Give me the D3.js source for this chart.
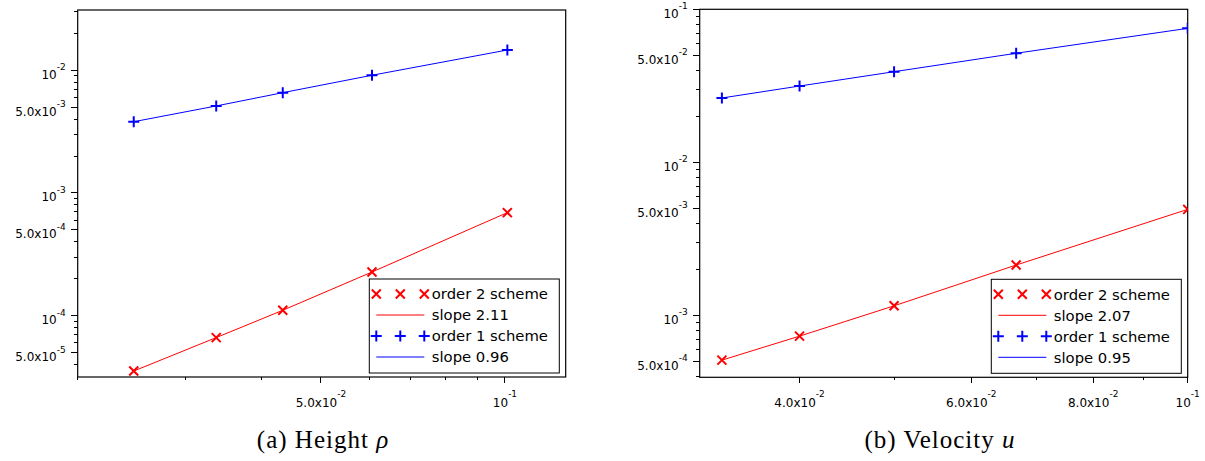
<!DOCTYPE html>
<html>
<head>
<meta charset="utf-8">
<script src="https://cdn.jsdelivr.net/npm/d3@7"></script>
<style>
  html, body { margin: 0; padding: 0; background: #fff; }
  svg { display: block; }
</style>
</head>
<body>
<script>
// ---------------- data ----------------
// (a) Height rho
const hLeft       = [0.0247, 0.0337, 0.0433, 0.0606, 0.1009];
const rhoOrder2   = [3.54e-5, 6.63e-5, 1.107e-4, 2.27e-4, 6.92e-4];
const rhoOrder1   = [3.81e-3, 5.12e-3, 6.57e-3, 9.11e-3, 1.463e-2];
const rhoSlopes   = ["slope 2.11", "slope 0.96"];
const leftXTicks  = [0.05, 0.1];
const leftXLabels = ["5.0x10^-2", "10^-1"];
const leftYTicks  = [1e-2, 5e-3, 1e-3, 5e-4, 1e-4, 5e-5];
const leftYLabels = ["10^-2", "5.0x10^-3", "10^-3", "5.0x10^-4", "10^-4", "5.0x10^-5"];

// (b) Velocity u
const hRight       = [0.0333, 0.04, 0.05, 0.0667, 0.1];
const uOrder2      = [5.10e-4, 7.32e-4, 1.155e-3, 2.133e-3, 4.93e-3];
const uOrder1      = [0.02633, 0.03153, 0.0391, 0.0516, 0.0751];
const uSlopes      = ["slope 2.07", "slope 0.95"];
const rightXTicks  = [0.04, 0.06, 0.08, 0.1];
const rightXLabels = ["4.0x10^-2", "6.0x10^-2", "8.0x10^-2", "10^-1"];
const rightYTicks  = [1e-1, 5e-2, 1e-2, 5e-3, 1e-3, 5e-4];
const rightYLabels = ["10^-1", "5.0x10^-2", "10^-2", "5.0x10^-3", "10^-3", "5.0x10^-4"];

const seriesNames = ["order 2 scheme", "order 1 scheme"];
const captions = [["(a) Height ", "ρ"], ["(b) Velocity ", "u"]];

// ---------------- drawing ----------------
const W = 1205, H = 461;
const RED = "#ff0000", BLUE = "#0000ff";
const svg = d3.select("body").append("svg").attr("width", W).attr("height", H)
  .style("font-family", "'DejaVu Sans', sans-serif");

function logMinorTicks(domain) {
  const out = [];
  const lo = Math.floor(Math.log10(domain[0])), hi = Math.ceil(Math.log10(domain[1]));
  for (let k = lo; k <= hi; k++) for (let m = 1; m <= 9; m++) {
    const v = m * Math.pow(10, k);
    if (v >= domain[0] * 0.9999 && v <= domain[1] * 1.0001) out.push(v);
  }
  return out;
}

function addLabel(g, str, x, y, anchor, supDy) {
  const parts = str.split("^");
  const t = g.append("text").attr("x", x).attr("y", y).attr("text-anchor", anchor)
    .attr("font-size", 12).attr("fill", "#000");
  t.append("tspan").text(parts[0]);
  t.append("tspan").attr("font-size", 9).attr("dy", supDy).text(parts[1]);
}

function panel(cfg, idx) {
  const b = cfg.box;
  const x = d3.scaleLog().domain(cfg.xDomain).range([b.x0, b.x1]);
  const y = d3.scaleLog().domain(cfg.yDomain).range([b.y1, b.y0]);
  const g = svg.append("g");

  const clipId = "clip" + idx;
  g.append("clipPath").attr("id", clipId).append("rect")
    .attr("x", b.x0).attr("y", b.y0).attr("width", b.x1 - b.x0).attr("height", b.y1 - b.y0);

  // ticks
  const xMinor = logMinorTicks(cfg.xDomain);
  g.selectAll(".xt").data(xMinor).enter().append("line")
    .attr("x1", d => x(d)).attr("x2", d => x(d))
    .attr("y1", b.y1).attr("y2", d => b.y1 + (cfg.xTicks.some(t => Math.abs(t - d) / d < 1e-6) ? 6 : 3))
    .attr("stroke", "#000").attr("stroke-width", 1).attr("shape-rendering", "crispEdges");
  const yMinor = logMinorTicks(cfg.yDomain);
  g.selectAll(".yt").data(yMinor).enter().append("line")
    .attr("y1", d => y(d)).attr("y2", d => y(d))
    .attr("x1", b.x0).attr("x2", d => b.x0 - (cfg.yTicks.some(t => Math.abs(t - d) / d < 1e-6) ? 7 : 4))
    .attr("stroke", "#000").attr("stroke-width", 1).attr("shape-rendering", "crispEdges");

  // tick labels
  cfg.xTicks.forEach((t, i) => addLabel(g, cfg.xLabels[i], x(t), b.y1 + 30, "middle", -10));
  cfg.yTicks.forEach((t, i) => addLabel(g, cfg.yLabels[i], b.x0 - 12, y(t) + 8.5, "end", -8.5));

  // frame
  g.append("rect").attr("x", b.x0).attr("y", b.y0).attr("width", b.x1 - b.x0).attr("height", b.y1 - b.y0)
    .attr("fill", "none").attr("stroke", "#000").attr("stroke-width", 1.2);

  // series
  const plot = g.append("g").attr("clip-path", `url(#${clipId})`);
  const line = d3.line().x(d => x(d[0])).y(d => y(d[1]));
  const s2 = cfg.xs.map((h, i) => [h, cfg.order2[i]]);
  const s1 = cfg.xs.map((h, i) => [h, cfg.order1[i]]);
  plot.append("path").attr("d", line(s2)).attr("fill", "none").attr("stroke", RED).attr("stroke-width", 1);
  plot.append("path").attr("d", line(s1)).attr("fill", "none").attr("stroke", BLUE).attr("stroke-width", 1);
  const cross = (sel, color) => sel.each(function (d) {
    const gx = d3.select(this);
    gx.append("path").attr("d", "M-4.5,-4.5L4.5,4.5M-4.5,4.5L4.5,-4.5").attr("stroke", color).attr("stroke-width", 2);
  });
  const plus = (sel, color) => sel.each(function (d) {
    const gx = d3.select(this);
    gx.append("path").attr("d", "M-5.5,0L5.5,0M0,-5.5L0,5.5").attr("stroke", color).attr("stroke-width", 2);
  });
  cross(plot.selectAll(".m2").data(s2).enter().append("g")
    .attr("transform", d => `translate(${x(d[0])},${y(d[1])})`), RED);
  plus(plot.selectAll(".m1").data(s1).enter().append("g")
    .attr("transform", d => `translate(${x(d[0])},${y(d[1])})`), BLUE);

  // legend
  const lx = b.x1 - 196.4, ly = b.y1 - 98;
  const lg = g.append("g");
  lg.append("rect").attr("x", lx).attr("y", ly).attr("width", 190).attr("height", 94)
    .attr("fill", "#fff").attr("stroke", "#000").attr("stroke-width", 1);
  const rows = [
    { type: "cross", color: RED, text: seriesNames[0] },
    { type: "line", color: RED, text: cfg.slopes[0] },
    { type: "plus", color: BLUE, text: seriesNames[1] },
    { type: "line", color: BLUE, text: cfg.slopes[1] }
  ];
  rows.forEach((r, i) => {
    const cy = ly + 15 + i * 21;
    if (r.type === "line") {
      lg.append("line").attr("x1", lx + 7).attr("x2", lx + 55).attr("y1", cy).attr("y2", cy)
        .attr("stroke", r.color).attr("stroke-width", 1);
    } else {
      [7, 31, 55].forEach(dx => {
        const m = lg.append("g").datum(0).attr("transform", `translate(${lx + dx},${cy})`);
        if (r.type === "cross") cross(m, r.color); else plus(m, r.color);
      });
    }
    lg.append("text").attr("x", lx + 62.5).attr("y", cy + 5.3).attr("font-size", 14.8)
      .attr("fill", "#000").text(r.text);
  });

  // caption
  const cap = svg.append("text").attr("x", cfg.capX).attr("y", 448).attr("text-anchor", "middle")
    .attr("font-family", "'Liberation Serif', serif").attr("font-size", 25).attr("letter-spacing", 1)
    .attr("fill", "#000");
  cap.append("tspan").text(cfg.caption[0]);
  cap.append("tspan").attr("font-style", "italic").text(cfg.caption[1]);
}

panel({
  box: { x0: 77.7, x1: 565.7, y0: 10, y1: 377 },
  xDomain: [0.02, 0.1257], yDomain: [3.165e-5, 0.031],
  xs: hLeft, order2: rhoOrder2, order1: rhoOrder1, slopes: rhoSlopes,
  xTicks: leftXTicks, xLabels: leftXLabels, yTicks: leftYTicks, yLabels: leftYLabels,
  caption: captions[0], capX: 323
}, 0);

panel({
  box: { x0: 699.7, x1: 1187.7, y0: 9.3, y1: 377.3 },
  xDomain: [0.0316, 0.1], yDomain: [3.94e-4, 0.1],
  xs: hRight, order2: uOrder2, order1: uOrder1, slopes: uSlopes,
  xTicks: rightXTicks, xLabels: rightXLabels, yTicks: rightYTicks, yLabels: rightYLabels,
  caption: captions[1], capX: 940
}, 1);
</script>
</body>
</html>
